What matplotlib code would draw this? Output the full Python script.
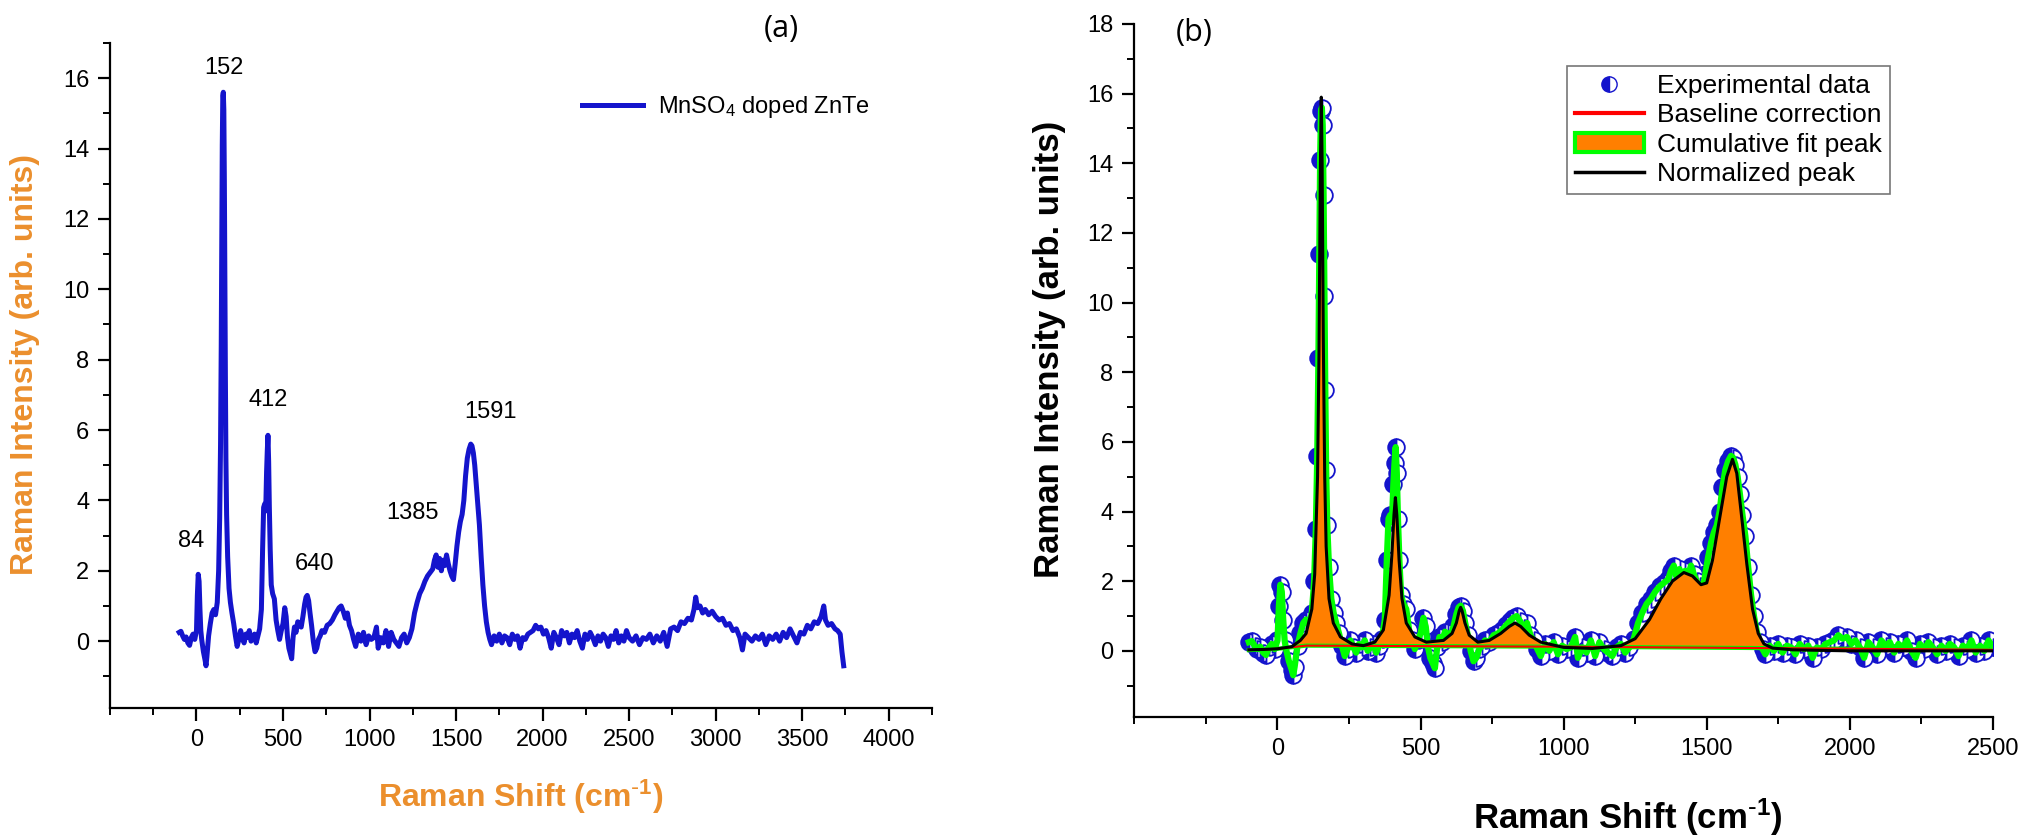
import numpy as np
import matplotlib
matplotlib.use("Agg")
import matplotlib.pyplot as plt
from matplotlib.lines import Line2D
from matplotlib.patches import Patch
from matplotlib.ticker import MultipleLocator

plt.rcParams['font.family'] = ['Liberation Sans', 'DejaVu Sans']
plt.rcParams['mathtext.default'] = 'regular'

raman_shift = [
    -100, -90, -80, -70, -60, -50, -40, -30, -20, -10,
    0, 5, 10, 15, 20, 25, 30, 40, 50, 55,
    60, 70, 80, 90, 100, 110, 120, 128, 134, 139,
    143, 146, 149, 152, 155, 158, 161, 164, 167, 170,
    174, 180, 188, 196, 205, 215, 225, 235, 245, 255,
    265, 275, 285, 295, 305, 315, 325, 335, 345, 355,
    365, 375, 382, 388, 394, 400, 405, 409, 413, 417,
    421, 426, 432, 440, 450, 460, 470, 480, 490, 500,
    510, 518, 526, 534, 542, 550, 558, 566, 575, 585,
    595, 605, 615, 625, 633, 640, 648, 656, 665, 675,
    685, 695, 705, 715, 725, 740, 755, 770, 785, 800,
    812, 824, 836, 848, 860, 872, 884, 896, 908, 920,
    935, 950, 965, 980, 995, 1010, 1025, 1040, 1050, 1065,
    1080, 1095, 1110, 1125, 1140, 1155, 1170, 1185, 1200, 1215,
    1230, 1245, 1260, 1275, 1290, 1305, 1320, 1335, 1350, 1365,
    1375, 1385, 1395, 1405, 1415, 1425, 1435, 1445, 1455, 1465,
    1475, 1485, 1495, 1505, 1515, 1525, 1535, 1545, 1555, 1565,
    1575, 1585, 1592, 1600, 1608, 1616, 1625, 1635, 1645, 1655,
    1665, 1675, 1685, 1695, 1705, 1720, 1735, 1750, 1765, 1780,
    1795, 1810, 1825, 1840, 1855, 1870, 1885, 1900, 1915, 1930,
    1945, 1960, 1975, 1990, 2005, 2020, 2035, 2050, 2065, 2080,
    2095, 2110, 2125, 2140, 2155, 2170, 2185, 2200, 2215, 2230,
    2245, 2260, 2275, 2290, 2305, 2320, 2335, 2350, 2365, 2380,
    2395, 2410, 2425, 2440, 2455, 2470, 2485, 2500, 2520, 2540,
    2560, 2580, 2600, 2620, 2640, 2660, 2680, 2700, 2720, 2740,
    2760, 2780, 2800, 2820, 2840, 2860, 2875, 2885, 2895, 2910,
    2925, 2940, 2960, 2980, 3000, 3020, 3040, 3060, 3080, 3100,
    3120, 3140, 3155, 3170, 3190, 3210, 3230, 3250, 3270, 3290,
    3310, 3330, 3350, 3370, 3390, 3410, 3430, 3450, 3470, 3490,
    3510, 3530, 3550, 3570, 3590, 3610, 3625, 3635, 3650, 3670,
    3690, 3705, 3720, 3730, 3740,
]
intensity = [
    0.25, 0.28, 0.15, 0.05, 0.12, -0.05, -0.12, 0.1, 0.2, 0.05,
    0.3, 1.3, 1.9, 1.7, 0.9, 0.3, 0.05, -0.3, -0.55, -0.7,
    -0.45, 0.15, 0.5, 0.8, 0.9, 0.75, 1.1, 2.0, 3.5, 5.6,
    8.4, 11.4, 14.1, 15.5, 15.6, 15.1, 13.1, 10.2, 7.5, 5.2,
    3.6, 2.4, 1.5, 1.1, 0.8, 0.5, 0.15, -0.15, 0.05, 0.3,
    0.1, -0.05, 0.2, 0.1, 0.3, 0.0, 0.1, 0.2, -0.05, 0.15,
    0.35, 0.9, 2.6, 3.8, 3.9, 3.7, 4.8, 5.4, 5.85, 5.1,
    3.8, 2.6, 1.6, 1.35, 1.2, 0.6, 0.3, 0.05, 0.3, 0.5,
    0.95, 0.7, 0.1, -0.2, -0.35, -0.5, 0.1, 0.4, 0.25, 0.55,
    0.5, 0.4, 0.7, 1.05, 1.25, 1.3, 1.15, 0.8, 0.45, 0.0,
    -0.3, -0.2, 0.05, 0.15, 0.3, 0.25, 0.45, 0.5, 0.6, 0.75,
    0.85, 0.95, 1.0, 0.85, 0.65, 0.8, 0.45, 0.3, 0.05, -0.15,
    0.2, 0.0, 0.25, -0.1, 0.15, 0.05, 0.1, 0.4, -0.2, 0.1,
    -0.05, 0.3, -0.15, 0.25, 0.05, -0.05, -0.15, 0.1, 0.2, -0.05,
    0.1, 0.35, 0.8, 1.1, 1.35, 1.5, 1.7, 1.85, 1.95, 2.05,
    2.3, 2.45, 2.1, 2.35, 2.0, 2.3, 2.15, 2.45, 2.2, 2.0,
    1.85, 1.75, 2.2, 2.7, 3.1, 3.4, 3.6, 4.0, 4.7, 5.2,
    5.45, 5.6, 5.55, 5.35, 5.0, 4.5, 3.9, 3.3, 2.4, 1.6,
    1.0, 0.55, 0.25, 0.05, -0.1, 0.15, 0.0, 0.2, -0.05, 0.15,
    0.1, -0.1, 0.2, 0.05, 0.15, -0.2, 0.1, 0.05, 0.2, 0.25,
    0.3, 0.45, 0.35, 0.4, 0.2, 0.3, 0.1, -0.2, 0.25, 0.1,
    -0.1, 0.3, 0.15, 0.25, -0.05, 0.2, 0.1, 0.3, 0.0, -0.2,
    0.2, 0.05, 0.25, 0.1, -0.1, 0.15, 0.0, 0.2, 0.1, -0.15,
    0.15, 0.05, 0.3, -0.05, 0.15, 0.0, 0.3, 0.1, 0.0, 0.15,
    -0.1, 0.1, 0.05, 0.2, -0.05, 0.15, 0.0, 0.25, -0.15, 0.35,
    0.4, 0.3, 0.55, 0.5, 0.65, 0.6, 0.9, 1.25, 0.95, 1.0,
    0.8, 0.9, 0.75, 0.85, 0.7, 0.6, 0.65, 0.45, 0.5, 0.3,
    0.35, 0.1, -0.25, 0.2, 0.1, 0.0, 0.15, 0.05, 0.2, -0.1,
    0.15, 0.05, 0.2, 0.0, 0.25, 0.1, 0.35, 0.15, -0.05, 0.25,
    0.2, 0.45, 0.35, 0.55, 0.5, 0.7, 1.0, 0.6, 0.45, 0.5,
    0.35, 0.3, 0.2, -0.3, -0.7,
]

# peak labels of panel (a): text, x, y
peak_text = ["84", "152", "412", "640", "1385", "1591"]
peak_x = [-29, 161, 415, 680, 1251, 1700]
peak_y = [2.85, 16.3, 6.85, 2.2, 3.65, 6.5]

# fitted (normalized) peak curve of panel (b)
fit_shift = [
    -100, -50, 0, 50, 80, 100, 120, 130, 140, 145,
    150, 153, 156, 160, 165, 170, 180, 195, 220, 260,
    300, 340, 370, 390, 400, 407, 412, 417, 425, 435,
    450, 480, 520, 580, 610, 625, 635, 640, 645, 655,
    670, 700, 740, 780, 810, 830, 850, 880, 920, 1000,
    1100, 1200, 1250, 1300, 1340, 1380, 1420, 1450, 1480, 1500,
    1520, 1545, 1570, 1590, 1605, 1620, 1640, 1660, 1680, 1700,
    1730, 1800, 2000, 2500,
]
fit_value = [
    0.03, 0.04, 0.06, 0.12, 0.3, 0.5, 1.2, 2.2, 5.0, 8.5,
    14.0, 15.9, 14.0, 9.0, 5.0, 3.0, 1.5, 0.8, 0.4, 0.2,
    0.15, 0.25, 0.6, 1.6, 2.8, 3.9, 4.4, 3.9, 2.6, 1.5,
    0.8, 0.4, 0.25, 0.3, 0.5, 0.8, 1.15, 1.25, 1.15, 0.8,
    0.45, 0.25, 0.3, 0.5, 0.7, 0.8, 0.7, 0.45, 0.25, 0.1,
    0.07, 0.15, 0.35, 0.9, 1.5, 2.0, 2.25, 2.15, 1.9, 1.95,
    2.6, 3.8, 5.0, 5.5, 5.1, 4.0, 2.5, 1.2, 0.5, 0.2,
    0.08, 0.03, 0.0, 0.0,
]

# baseline under the cumulative fit
base_shift = [-100, 0, 100, 1000, 1700, 2500]
base_value = [0.02, 0.06, 0.15, 0.12, 0.08, 0.03]

orange_lbl = '#EB8F2D'
blue = '#1414CC'
shift_label = r'Raman Shift (cm$^{\text{-}1}$)'

fig = plt.figure(figsize=(20.29, 8.36), dpi=100)

# ---------------- panel (a) ----------------
ax1 = fig.add_axes([0.0542, 0.1531, 0.4051, 0.7955])
ax1.plot(raman_shift, intensity, color=blue, lw=3.6, label='MnSO$_4$ doped ZnTe')
for t, px, py in zip(peak_text, peak_x, peak_y):
    ax1.text(px, py, t, ha='center', va='center', fontsize=17)
ax1.set_xlim(-500, 4250)
ax1.set_ylim(-1.9, 17)
ax1.set_xticks(np.arange(0, 4001, 500))
ax1.set_yticks(np.arange(0, 17, 2))
ax1.xaxis.set_minor_locator(MultipleLocator(250))
ax1.yaxis.set_minor_locator(MultipleLocator(1))
ax1.set_xlabel(shift_label, fontsize=23, fontweight='bold', color=orange_lbl)
ax1.set_ylabel('Raman Intensity (arb. units)', fontsize=23, fontweight='bold', color=orange_lbl)
ax1.xaxis.set_label_coords(0.5, -0.105)
ax1.yaxis.set_label_coords(-0.085, 0.516)
ax1.legend(loc='upper right', bbox_to_anchor=(0.95, 0.955), frameon=False,
           fontsize=17, handlelength=2.6, handletextpad=0.6)

# ---------------- panel (b) ----------------
ax2 = fig.add_axes([0.5591, 0.1423, 0.4231, 0.829])
sel = np.array(raman_shift) <= 2500
xb = np.array(raman_shift)[sel]
yb = np.array(intensity)[sel]
ax2.plot(xb, yb, ls='none', marker='o', ms=12, fillstyle='left',
         markerfacecolor=blue, markerfacecoloralt='white',
         markeredgecolor=blue, markeredgewidth=1.3, zorder=1)
ax2.plot(xb, yb, color='#00FF00', lw=4.5, zorder=2)
base_on_fit = np.interp(fit_shift, base_shift, base_value)
ax2.fill_between(fit_shift, base_on_fit, fit_value,
                 where=np.array(fit_value) > base_on_fit,
                 color='#FF7F00', lw=0, zorder=3)
ax2.plot(base_shift, base_value, color='#00FF00', lw=3, zorder=3)
ax2.plot(base_shift, base_value, color='red', lw=1.5, zorder=3)
ax2.plot(fit_shift, fit_value, color='black', lw=2.2, zorder=4)
ax2.set_xlim(-500, 2500)
ax2.set_ylim(-1.9, 18)
ax2.set_xticks(np.arange(0, 2501, 500))
ax2.set_yticks(np.arange(0, 19, 2))
ax2.xaxis.set_minor_locator(MultipleLocator(250))
ax2.yaxis.set_minor_locator(MultipleLocator(1))
ax2.set_xlabel(shift_label, fontsize=25, fontweight='bold')
ax2.set_ylabel('Raman Intensity (arb. units)', fontsize=25, fontweight='bold')
ax2.xaxis.set_label_coords(0.575, -0.115)
ax2.yaxis.set_label_coords(-0.080, 0.531)

handles = [
    Line2D([], [], ls='none', marker='o', ms=11, fillstyle='left',
           markerfacecolor=blue, markerfacecoloralt='white', markeredgecolor=blue),
    Line2D([], [], color='red', lw=3),
    Patch(facecolor='#FF7F00', edgecolor='#00FF00', lw=3),
    Line2D([], [], color='black', lw=2.5),
]
labels = ['Experimental data', 'Baseline correction', 'Cumulative fit peak', 'Normalized peak']
leg = ax2.legend(handles, labels, loc='upper right', bbox_to_anchor=(0.895, 0.958),
                 fontsize=19, fancybox=False, edgecolor='#777777', framealpha=1,
                 handlelength=2.6, handletextpad=0.5, labelspacing=0.2, borderpad=0.3)
leg.get_frame().set_linewidth(1.2)

for ax in (ax1, ax2):
    for side in ('top', 'right'):
        ax.spines[side].set_visible(False)
    for side in ('left', 'bottom'):
        ax.spines[side].set_linewidth(1.6)
    ax.tick_params(which='major', direction='out', length=9, width=1.6, labelsize=17, pad=6)
    ax.tick_params(which='minor', direction='out', length=5, width=1.4)

fig.text(0.385, 0.965, '(a)', fontsize=22, ha='center', va='center', family='Open Sans')
fig.text(0.5885, 0.960, '(b)', fontsize=22, ha='center', va='center', family='Open Sans')

fig.savefig('out.png', dpi=100)
